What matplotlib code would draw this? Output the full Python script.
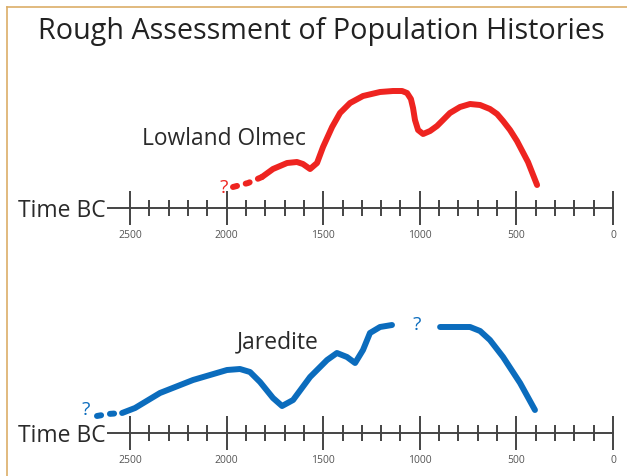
import numpy as np
import matplotlib
matplotlib.use("Agg")
import matplotlib.pyplot as plt
from matplotlib.lines import Line2D

plt.rcParams['font.family'] = ['Open Sans', 'DejaVu Sans']

# Lowland Olmec (years BC, relative population index)
olmec_dash_years = [1967, 1889, 1817]
olmec_dash_pop = [21, 25, 31]
olmec_years = [1817, 1760, 1687, 1636, 1605, 1568, 1532, 1501, 1454, 1413, 1361, 1294,
               1206, 1139, 1092, 1066, 1046, 1035, 1025, 1009, 983, 947, 911, 880,
               844, 792, 740, 688, 637, 600, 569, 533, 497, 440, 393]
olmec_pop = [31, 39, 45, 46, 44, 39, 45, 61, 81, 95, 105, 112,
             116, 117, 117, 115, 109, 100, 88, 78, 74, 77, 82, 88,
             95, 101, 104, 103, 99, 94, 87, 78, 67, 46, 23]
olmec_q = (2013, 20)

# Jaredite
jared_dash_years = [2671, 2614, 2541]
jared_dash_pop = [17, 19, 20]
jared_years = [2541, 2474, 2345, 2174, 1998, 1931, 1879, 1827, 1760, 1713, 1656, 1568,
               1480, 1429, 1377, 1335, 1294, 1258, 1206, 1144]
jared_pop = [20, 25, 40, 53, 63, 64, 61, 51, 35, 27, 33, 56,
             73, 80, 76, 70, 83, 100, 106, 108]
jared_late_years = [895, 740, 688, 637, 569, 481, 404]
jared_late_pop = [106, 106, 102, 93, 76, 50, 23]
jared_q = [(2728, 23), (1014, 108)]

major_ticks = [2500, 2000, 1500, 1000, 500, 0]
minor_ticks = list(range(0, 2600, 100))

red = '#ee2420'
blue = '#0b6cbd'
txt = '#2a2a2a'

W, H = 627, 476
fig = plt.figure(figsize=(W / 100, H / 100), dpi=100)


def make_axis(spine_px):
    ax = fig.add_axes([108 / W, (H - spine_px) / H, 505 / W, 130 / H])
    ax.set_xlim(2614, 0)
    ax.set_ylim(0, 130)
    for s in ['top', 'left', 'right']:
        ax.spines[s].set_visible(False)
    ax.spines['bottom'].set_color('#444444')
    ax.spines['bottom'].set_linewidth(1.4)
    ax.set_yticks([])
    ax.set_xticks(major_ticks)
    ax.set_xticklabels([str(t) for t in major_ticks])
    ax.set_xticks(minor_ticks, minor=True)
    ax.tick_params(axis='x', which='major', direction='inout', length=25, width=1.4,
                   color='#444444', labelsize=7.5, labelcolor='#555555', pad=3)
    ax.tick_params(axis='x', which='minor', direction='inout', length=11.5, width=1.4,
                   color='#444444')
    ax.patch.set_visible(False)
    ax.annotate('Time BC', xy=(0, 0), xycoords='axes fraction', xytext=(-1.5, -6.5),
                textcoords='offset points', ha='right', va='baseline',
                fontsize=16.5, color=txt)
    return ax


ax1 = make_axis(208)
ax1.plot(olmec_dash_years, olmec_dash_pop, color=red, lw=4.3, linestyle=(0, (0.7, 1.5)),
         dash_capstyle='round', clip_on=False)
ax1.plot(olmec_years, olmec_pop, color=red, lw=4.3, solid_capstyle='round',
         solid_joinstyle='round', clip_on=False)
ax1.text(olmec_q[0], olmec_q[1], '?', color=red, fontsize=14, ha='center', va='center')
ax1.text(2438, 63, 'Lowland Olmec', fontsize=16.4, color=txt, ha='left', va='baseline')

ax2 = make_axis(433)
ax2.plot(jared_dash_years, jared_dash_pop, color=blue, lw=4.3, linestyle=(0, (0.7, 1.5)),
         dash_capstyle='round', clip_on=False)
ax2.plot(jared_years, jared_pop, color=blue, lw=4.3, solid_capstyle='round',
         solid_joinstyle='round', clip_on=False)
ax2.plot(jared_late_years, jared_late_pop, color=blue, lw=4.3, solid_capstyle='round',
         solid_joinstyle='round', clip_on=False)
for qx, qy in jared_q:
    ax2.text(qx, qy, '?', color=blue, fontsize=14, ha='center', va='center', clip_on=False)
ax2.text(1946, 85, 'Jaredite', fontsize=16.5, color=txt, ha='left', va='baseline')

fig.text(321 / W, 1 - 39 / H, 'Rough Assessment of Population Histories',
         ha='center', va='baseline', fontsize=20.7, color='#222222')

# tan frame at top and left edge
fig.add_artist(Line2D([7 / W, 7 / W], [0, 1 - 7 / H], color='#dcae68', lw=1.2))
fig.add_artist(Line2D([7 / W, 1], [1 - 7 / H, 1 - 7 / H], color='#dcae68', lw=1.2))

fig.savefig('out.png', dpi=100)
